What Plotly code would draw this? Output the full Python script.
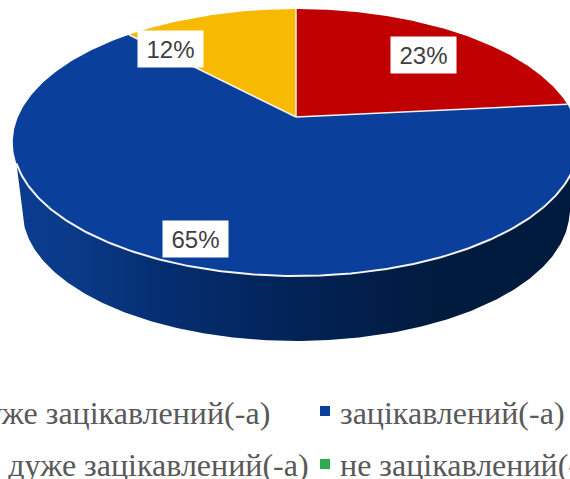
import numpy as np
import plotly.graph_objects as go

# Data
categories = ["дуже зацікавлений(-а)", "зацікавлений(-а)", "не дуже зацікавлений(-а)", "не зацікавлений(-а)"]
values = [23.4, 64.6, 12.0, 0.0]
value_labels = ["23%", "65%", "12%", "0%"]
colors = ["#C00000", "#0A3F9C", "#F8BA00", "#2EAA54"]

# Perspective disc geometry (pixels)
CX, APEX_Y, RX, A, K = 296.0, 117.0, 278.0, 128.6, 0.191
W, H = 570, 479


def disc(theta, r=1.0):
    u, v = r * np.sin(theta), -r * np.cos(theta)
    d = 1 - K * v
    return CX + RX * u / d, APEX_Y + A * v / d


fig = go.Figure()

# Side wall
phi = np.radians(np.linspace(4, 171, 240))
top_x = 296 + 283 * np.cos(phi)
top_y = 142.5 + 133.5 * np.sin(phi)
phi2 = np.radians(np.linspace(176, 4, 240))
bot_x = 296 + 273.5 * np.cos(phi2)
bot_y = 211 + 130 * np.sin(phi2)
fig.add_trace(go.Scatter(
    x=np.r_[top_x, bot_x, top_x[0]], y=np.r_[top_y, bot_y, top_y[0]],
    mode="lines", line=dict(width=0), fill="toself",
    fillgradient=dict(type="horizontal", colorscale=[
        [0, "#0A3C90"], [0.1, "#0A3A88"], [0.25, "#052F72"], [0.42, "#03265F"],
        [0.6, "#021F4C"], [0.75, "#011B3E"], [1, "#011B3E"]]),
    hoverinfo="skip", showlegend=False))

# Slices
total = sum(values)
start = 0.0
edges = []
for name, val, col in zip(categories, values, colors):
    if val <= 0:
        continue
    sweep = 2 * np.pi * val / total
    th = np.linspace(start, start + sweep, 240)
    x, y = disc(th)
    fig.add_trace(go.Scatter(
        x=np.r_[CX, x, CX], y=np.r_[APEX_Y, y, APEX_Y], mode="lines",
        line=dict(width=0, color=col), fill="toself", fillcolor=col,
        name=name, hoverinfo="name", showlegend=False))
    edges.append(start)
    start += sweep

# White separators between slices
for e in edges:
    ex, ey = disc(np.array([e]))
    fig.add_trace(go.Scatter(x=[CX, ex[0]], y=[APEX_Y, ey[0]], mode="lines",
                             line=dict(color="#F2F2F2", width=1.5),
                             hoverinfo="skip", showlegend=False))

# White rim on front edge
fig.add_trace(go.Scatter(x=top_x, y=top_y, mode="lines",
                         line=dict(color="#F4F4F4", width=2),
                         hoverinfo="skip", showlegend=False))

annotations = []
label_pos = {0: (423.5, 55), 1: (195.5, 239), 2: (170.5, 49)}
for i, (px, py) in label_pos.items():
    annotations.append(dict(x=px, y=py, xref="x", yref="y", text=value_labels[i], showarrow=False,
                            bgcolor="white", width=63, height=34, align="center", valign="middle",
                            font=dict(family="Liberation Sans", size=24, color="#404040")))

legend_font = dict(family="Liberation Serif", size=32, color="#595959")
annotations += [
    dict(x=272, y=413, xref="x", yref="y", text=categories[0], xanchor="right", showarrow=False, font=legend_font),
    dict(x=338, y=413, xref="x", yref="y", text=categories[1], xanchor="left", showarrow=False, font=legend_font),
    dict(x=311, y=465, xref="x", yref="y", text=categories[2], xanchor="right", showarrow=False, font=legend_font),
    dict(x=338, y=465, xref="x", yref="y", text=categories[3], xanchor="left", showarrow=False, font=legend_font),
]
shapes = [
    dict(type="rect", xref="x", yref="y", x0=320, x1=330, y0=406, y1=416, fillcolor=colors[1], line_width=0),
    dict(type="rect", xref="x", yref="y", x0=320, x1=330, y0=459, y1=469, fillcolor=colors[3], line_width=0),
]

fig.update_layout(
    width=W, height=H, margin=dict(l=0, r=0, t=0, b=0),
    paper_bgcolor="white", plot_bgcolor="white", showlegend=False,
    xaxis=dict(range=[0, W], visible=False, fixedrange=True),
    yaxis=dict(range=[H, 0], visible=False, fixedrange=True),
    annotations=annotations, shapes=shapes,
)
fig.write_html("out.html", config=dict(displayModeBar=False),
               post_script="document.body.style.margin='0';document.documentElement.style.overflow='hidden';")
